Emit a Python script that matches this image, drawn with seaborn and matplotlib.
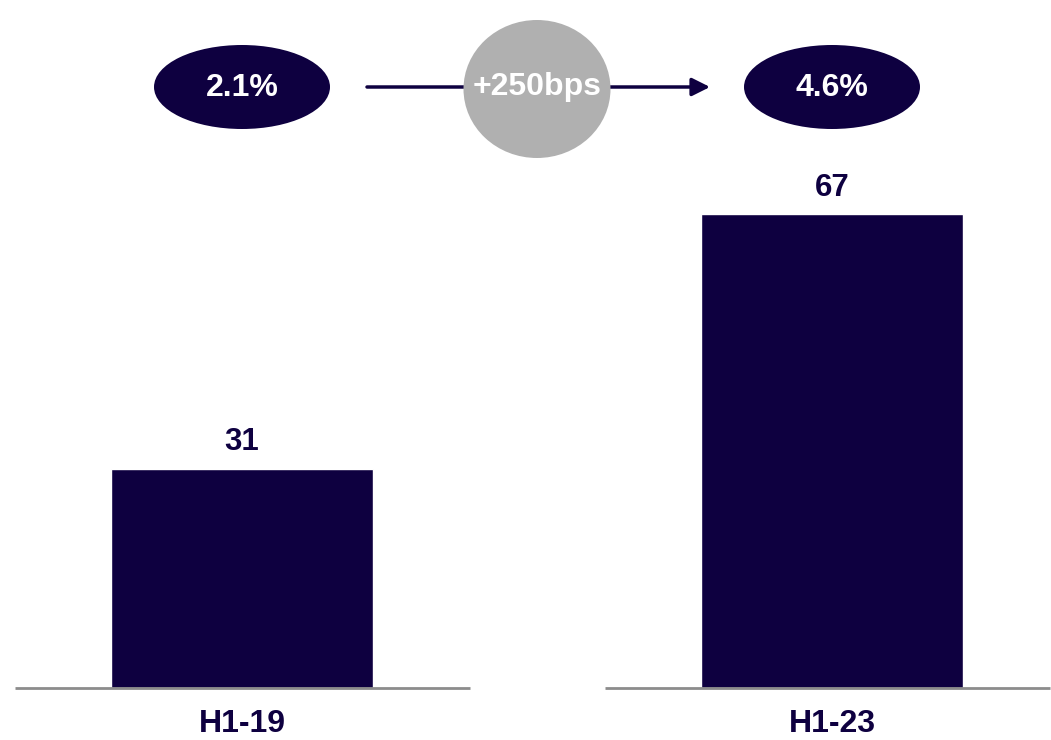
import matplotlib
matplotlib.use("Agg")
import matplotlib.pyplot as plt
import seaborn as sns
import pandas as pd
from matplotlib.patches import Ellipse

categories = ["H1-19", "H1-23"]
values = [31, 67]
margins = ["2.1%", "4.6%"]
change_label = "+250bps"

NAVY = "#0E0040"
GRAY = "#B0B0B0"

sns.set_theme(style="white")
plt.rcParams["font.family"] = ["Liberation Sans", "DejaVu Sans"]

W, H = 1051, 740
fig = plt.figure(figsize=(W / 100, H / 100), dpi=100)

# main bar axes: bottom at baseline (688 px from top)
base_px = 688
ax = fig.add_axes([0, (H - base_px) / H, 1, base_px / H])
df = pd.DataFrame({"period": categories, "value": values})
sns.barplot(data=df, x="period", y="value", color=NAVY, width=262 / 590,
            saturation=1, ax=ax)
ax.set_xlim(-242 / 590, (W - 242) / 590)
ax.set_ylim(0, base_px / 7.08)
ax.set_xlabel("")
ax.set_ylabel("")
ax.set_yticks([])
for s in ax.spines.values():
    s.set_visible(False)
ax.tick_params(axis="x", length=0, pad=15)
for lbl in ax.get_xticklabels():
    lbl.set_fontsize(23)
    lbl.set_fontweight("bold")
    lbl.set_color(NAVY)
ax.bar_label(ax.containers[0], labels=[str(v) for v in values], padding=8,
             fontsize=22.5, fontweight="bold", color=NAVY)
# split baseline
ax.hlines(0, (15 - 242) / 590, (470 - 242) / 590, color="#8C8C8C", lw=2, clip_on=False)
ax.hlines(0, (605 - 242) / 590, (1050 - 242) / 590, color="#8C8C8C", lw=2, clip_on=False)

# overlay axes in pixel coordinates for the margin bubbles
ov = fig.add_axes([0, 0, 1, 1])
ov.set_xlim(0, W)
ov.set_ylim(H, 0)
ov.axis("off")
ov.patch.set_alpha(0)

ycen = 87
ov.annotate("", xy=(710, ycen), xytext=(367, ycen),
            arrowprops=dict(arrowstyle="-|>,head_length=0.9,head_width=0.45",
                            color=NAVY, lw=2.5, shrinkA=0, shrinkB=0))
for cx, txt in zip([242, 832], margins):
    ov.add_patch(Ellipse((cx, ycen), 176, 84, facecolor=NAVY, edgecolor="none"))
    ov.text(cx, ycen + 1, txt, ha="center", va="center", color="white",
            fontsize=23, fontweight="bold")
ov.add_patch(Ellipse((537, 89), 147, 138, facecolor=GRAY, edgecolor="none", zorder=3))
ov.text(537, ycen, change_label, ha="center", va="center", color="white",
        fontsize=23, fontweight="bold", zorder=4)

fig.savefig("out.png", dpi=100)
